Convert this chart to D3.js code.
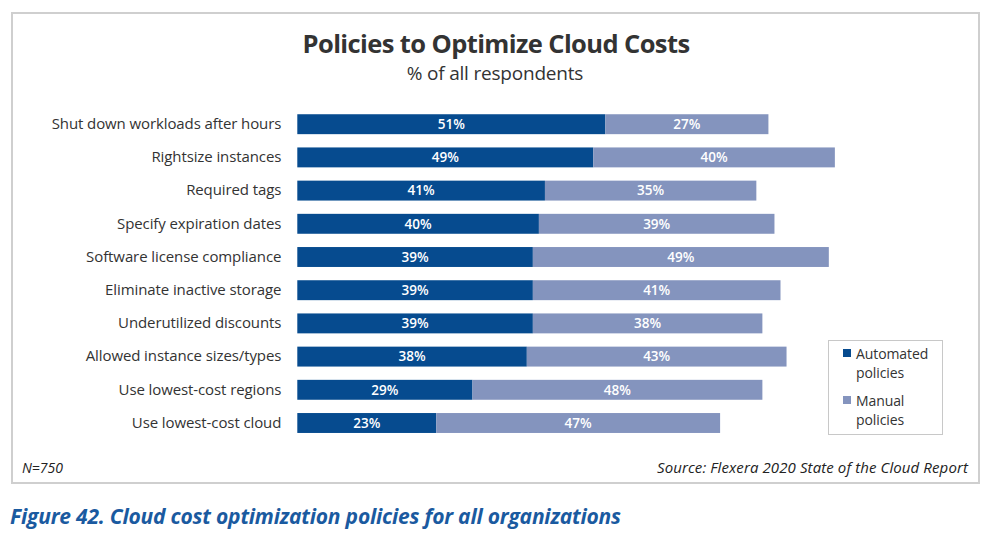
<!DOCTYPE html>
<html><head><meta charset="utf-8">
<script src="https://cdn.jsdelivr.net/npm/d3@7"></script>
<style>body{margin:0;background:#fff}svg{display:block}</style>
</head><body>
<script>
const categories = ["Shut down workloads after hours","Rightsize instances","Required tags","Specify expiration dates","Software license compliance","Eliminate inactive storage","Underutilized discounts","Allowed instance sizes/types","Use lowest-cost regions","Use lowest-cost cloud"];
const automated = [51,49,41,40,39,39,39,38,29,23];
const manual = [27,40,35,39,49,41,38,43,48,47];
const seriesNames = ["Automated policies","Manual policies"];
const colors = ["#064b8f","#8494be"];

const W=1003,H=551;
const svg=d3.select("body").append("svg").attr("width",W).attr("height",H);
const font="'Open Sans', sans-serif";

svg.append("rect").attr("x",12).attr("y",13).attr("width",967).attr("height",470)
  .attr("fill","#fff").attr("stroke","#cfcfcf").attr("stroke-width",2);

svg.append("text").attr("x",496).attr("y",53).attr("text-anchor","middle")
  .attr("font-family",font).attr("font-weight",700).attr("font-size",25.5).attr("fill","#333")
  .attr("letter-spacing",-0.6).text("Policies to Optimize Cloud Costs");
svg.append("text").attr("x",495).attr("y",80).attr("text-anchor","middle")
  .attr("font-family",font).attr("font-size",19).attr("fill","#333").attr("letter-spacing",-0.2)
  .text("% of all respondents");

const x0=297.3;
const x=d3.scaleLinear().domain([0,100]).range([x0,x0+604]);
const y=d3.scaleBand().domain(categories).range([107.6,439.6]).paddingInner(0.4).paddingOuter(0.2);

const yAxis=d3.axisLeft(y).tickSize(0).tickPadding(16);
const ga=svg.append("g").attr("transform",`translate(${x0},0)`).call(yAxis);
ga.select(".domain").remove();
ga.selectAll("text").attr("font-family",font).attr("font-size",15).attr("fill","#333").attr("letter-spacing",-0.1);

const rows=categories.map((c,i)=>({c,a:automated[i],m:manual[i]}));
const g=svg.append("g");
rows.forEach(r=>{
  const segs=[{s:0,v:r.a,col:colors[0]},{s:r.a,v:r.m,col:colors[1]}];
  segs.forEach(sg=>{
    g.append("rect").attr("x",x(sg.s)).attr("y",y(r.c)).attr("width",x(sg.s+sg.v)-x(sg.s))
      .attr("height",y.bandwidth()).attr("fill",sg.col);
    g.append("text").attr("x",(x(sg.s)+x(sg.s+sg.v))/2).attr("y",y(r.c)+y.bandwidth()/2)
      .attr("dy","0.36em").attr("text-anchor","middle").attr("font-family",font)
      .attr("font-weight",600).attr("font-size",13.5).attr("fill","#fff").text(sg.v+"%");
  });
});

// legend
const lg=svg.append("g");
lg.append("rect").attr("x",828.5).attr("y",340.5).attr("width",114).attr("height",94)
  .attr("fill","#fff").attr("stroke","#c8c8c8").attr("stroke-width",1);
const legendLines=[["Automated","policies"],["Manual","policies"]];
legendLines.forEach((ls,i)=>{
  const by=354+i*47;
  lg.append("rect").attr("x",843).attr("y",by-5).attr("width",8).attr("height",8).attr("fill",colors[i]);
  ls.forEach((t,j)=>{
    lg.append("text").attr("x",856).attr("y",by+j*19).attr("dy","0.36em").attr("font-family",font)
      .attr("font-size",14).attr("fill","#333").attr("letter-spacing",-0.1).text(t);
  });
});

svg.append("text").attr("x",22).attr("y",473).attr("font-family",font).attr("font-style","italic")
  .attr("font-size",14).attr("fill","#222").text("N=750");
svg.append("text").attr("x",968).attr("y",473).attr("text-anchor","end").attr("font-family",font).attr("font-style","italic")
  .attr("font-size",15).attr("fill","#222").attr("letter-spacing",0.1).text("Source: Flexera 2020 State of the Cloud Report");

svg.append("text").attr("x",10).attr("y",524).attr("font-family",font).attr("font-style","italic").attr("font-weight",700)
  .attr("font-size",21).attr("fill","#1a5aa0").attr("letter-spacing",-0.2)
  .text("Figure 42. Cloud cost optimization policies for all organizations");
</script>
</body></html>
